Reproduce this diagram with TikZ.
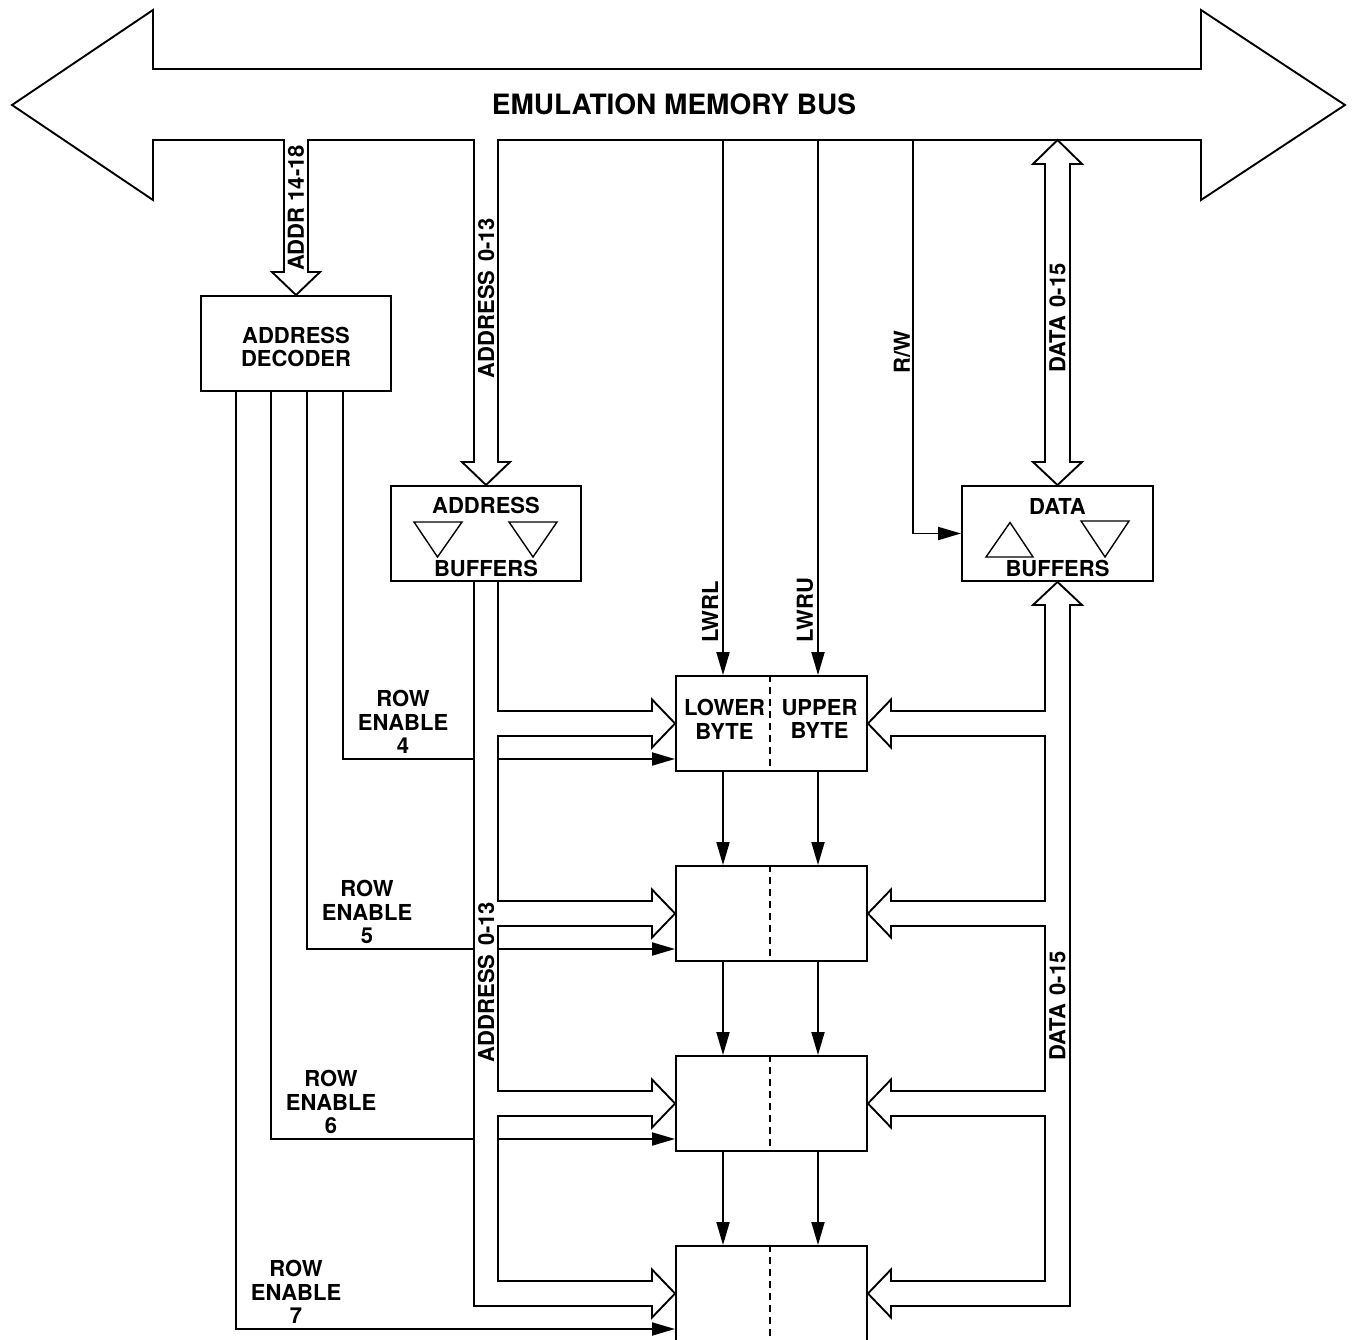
\documentclass[tikz,border=0pt]{standalone}
\usepackage{fontspec}
\setmainfont{TeX Gyre Heros}
\usetikzlibrary{arrows.meta}

\begin{document}
\begin{tikzpicture}[x=1pt,y=-1pt,line width=1.9pt,line join=miter,
	blk/.style={draw,minimum width=190pt,minimum height=95pt,inner sep=0pt},
	lbl/.style={font=\bfseries\fontsize{22}{23.8}\selectfont,inner sep=0pt,align=center},
	sig/.style={-{Triangle[length=23pt,width=13pt]}},
	busln/.style={line cap=rect},
	tri/.style={line width=1.4pt}]
	\clip (0,0) rectangle (1353,1340);
	
	% blocks
	\node[blk] (dec) at (296,343.5) {};
	\node[blk] (abuf) at (486,533.5) {};
	\node[blk,minimum width=191pt] (dbuf) at (1057.5,533.5) {};
	\foreach \i/\c in {1/723.5,2/913.5,3/1103.5,4/1293.5}
	{\node[blk,minimum width=191pt] (row\i) at (771.5,\c) {};
	 \draw[line width=1.3pt,dash pattern=on 7pt off 5pt] (row\i.north -| 770,0) -- (row\i.south -| 770,0);}
	
	\node[lbl] (dectxt) at (296,347) {ADDRESS\\DECODER};
	\node[lbl] (abuftop) at ([yshift=-20pt]abuf.north) {ADDRESS};
	\node[lbl] (abufbot) at ([yshift=13pt]abuf.south) {BUFFERS};
	\node[lbl] (dbuftop) at ([yshift=-21pt]dbuf.north) {DATA};
	\node[lbl] (dbufbot) at ([yshift=13pt]dbuf.south) {BUFFERS};
	\node[lbl] (lower) at (724.5,719) {LOWER\\BYTE};
	\node[lbl] (upper) at (819.5,719) {UPPER\\BYTE};
	
	% buffer triangles
	\draw[tri] (414,522) -- (462,522) -- (437.5,557) -- cycle;
	\draw[tri] (509,522) -- (557,522) -- (533,557) -- cycle;
	\draw[tri] (986,557) -- (1033,557) -- (1010,522.5) -- cycle;
	\draw[tri] (1081,521) -- (1129,521) -- (1105,557) -- cycle;
	
	% emulation memory bus with the two address branches
	\draw (498,140) -- (1201,140) -- (1201,200) -- (1345,105) -- (1201,10) -- (1201,69) -- (153,69) -- (153,10) -- (12,105) -- (153,200) -- (153,140)
	 -- (284,140) -- (284,272) -- (272,272) -- (dec.north) -- (320,272) -- (308,272) -- (308,140)
	 -- (474,140) -- (474,462) -- (462,462) -- (abuf.north) -- (510,462) -- (498,462) -- cycle;
	\node[font=\bfseries\fontsize{28}{30}\selectfont,inner sep=0pt] (bustxt) at (674,104) {EMULATION MEMORY BUS};
	\node[lbl,rotate=90] (addrhi) at (296,208) {ADDR 14-18};
	\node[lbl,rotate=90] (addrlo) at (486,298) {ADDRESS\hspace{0.12em} 0-13};
	
	% data bus to the data buffers
	\coordinate (dtop) at (1057.5,140);
	\draw (1045,164) -- (1033,164) -- (dtop) -- (1082,164) -- (1070,164) -- (1070,462) -- (1082,462) -- (dbuf.north) -- (1033,462) -- (1045,462) -- cycle;
	\node[lbl,rotate=90] (datatop) at (1057.5,318) {DATA\hspace{0.12em} 0-15};
	
	% control lines
	\coordinate (lwrl) at (723,140);
	\coordinate (lwru) at (818,140);
	\coordinate (rw) at (913,140);
	\draw[sig] (lwrl) -- (row1.north -| lwrl);
	\draw[sig] (lwru) -- (row1.north -| lwru);
	\draw[sig] (rw) |- (dbuf.west);
	\node[lbl,rotate=90] (lwrllbl) at (710,612) {LWRL};
	\node[lbl,rotate=90] (lwrulbl) at (805,610) {LWRU};
	\node[lbl,rotate=90] (rwlbl) at (902,352) {R/W};
	\foreach \i/\j in {1/2,2/3,3/4}
	{\draw[sig] (row\i.south -| lwrl) -- (row\j.north -| lwrl);
	 \draw[sig] (row\i.south -| lwru) -- (row\j.north -| lwru);}
	
	% address bus into the rows
	\draw[busln] (474,581) -- (474,1305.5);
	\foreach \i/\c/\ys/\xe in {1/723.5/581/498,2/913.5/736/498,3/1103.5/926/498,4/1293.5/1116/474}
	\draw[busln] (498,\ys) -- (498,{\c-12.5}) -- (652,{\c-12.5}) -- (652,{\c-24}) -- (row\i.west) -- (652,{\c+24}) -- (652,{\c+12.5}) -- (\xe,{\c+12.5});
	\node[lbl,rotate=90] (addrrow) at (486,982) {ADDRESS\hspace{0.12em} 0-13};
	
	% data bus into the rows
	\draw (1045,605) -- (1033,605) -- (dbuf.south) -- (1082,605) -- (1070,605);
	\draw[busln] (1070,605) -- (1070,1305.5);
	\foreach \i/\c/\ys/\xe in {1/723.5/605/1045,2/913.5/736/1045,3/1103.5/926/1045,4/1293.5/1116/1070}
	\draw[busln] (1045,\ys) -- (1045,{\c-12.5}) -- (891,{\c-12.5}) -- (891,{\c-24}) -- (row\i.east) -- (891,{\c+24}) -- (891,{\c+12.5}) -- (\xe,{\c+12.5});
	\node[lbl,rotate=90] (datarow) at (1057.5,1006) {DATA\hspace{0.12em} 0-15};
	
	% row enables
	\foreach \i/\c/\xd/\n in {1/723.5/343/4,2/913.5/307/5,3/1103.5/271/6}
	{\draw (dec.south -| \xd,0) |- (474,{\c+35.5});
	 \draw[sig] (498,{\c+35.5}) -- (row\i.west |- 0,{\c+35.5});
	 \node[lbl] (re\n) at ({\xd+60},{\c-1.5}) {ROW\\ENABLE\\\n};}
	\draw[sig] (dec.south -| 236,0) |- (row4.west |- 0,1329);
	\node[lbl] (re7) at (296,1292) {ROW\\ENABLE\\7};
\end{tikzpicture}
\end{document}
